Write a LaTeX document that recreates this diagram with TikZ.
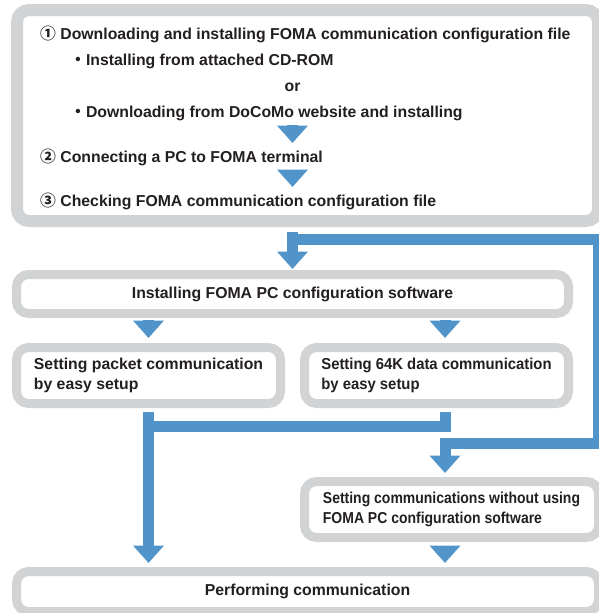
\documentclass[tikz,border=0pt]{standalone}
\usepackage{fontspec}
\setmainfont{Liberation Sans}
\newfontfamily\cjk{Noto Sans CJK JP}
\usepackage{xcolor}
\usetikzlibrary{arrows.meta,calc}
\definecolor{boxgray}{RGB}{209,211,212}
\definecolor{flowblue}{RGB}{80,148,202}
\definecolor{ink}{RGB}{35,31,32}

\begin{document}
\begin{tikzpicture}[
  x=1pt, y=-1pt,
  font=\fontsize{15.8}{19.5}\selectfont\bfseries,
  stage/.style={draw=boxgray, fill=white, line width=9pt, rounded corners=12pt, inner sep=0pt, outer sep=0pt, align=left, text=ink},
  narrow/.style={font=\fontsize{15.8}{19.5}\selectfont\bfseries\addfontfeature{FakeStretch=#1}},
  line/.style={anchor=base west, inner sep=0pt, text=ink},
  flow/.style={draw=flowblue, line width=11pt, line join=miter, -{Triangle[width=30pt,length=17.5pt]}}
]
  \useasboundingbox (0,0) rectangle (599,613);

  % Preparation box
  \node[stage, line width=12pt, minimum width=581pt, minimum height=211pt] (setup) at (307.5,115.5) {};
  \node[line] (step1) at (40,39.3) {{\cjk ①}\ Downloading and installing FOMA communication configuration file};
  \node[line] (cdrom) at (70,65.3) {{\cjk ・}Installing from attached CD-ROM};
  \node[anchor=base, inner sep=0pt, text=ink] (or) at (292.5,91.7) {or};
  \node[line] (web) at (70,117.3) {{\cjk ・}Downloading from DoCoMo website and installing};
  \node[line] (step2) at (40,162.7) {{\cjk ②}\ Connecting a PC to FOMA terminal};
  \node[line] (step3) at (40,206) {{\cjk ③}\ Checking FOMA communication configuration file};

  % Steps
  \node[stage, minimum width=552pt, minimum height=39pt] (install) at (292.5,294) {Installing FOMA PC configuration software};
  \node[stage, minimum width=264pt, minimum height=56pt] (packet) at (148.5,375.5) {Setting packet communication\\by easy setup};
  \node[stage, narrow=0.94, minimum width=264pt, minimum height=56pt] (data) at (436.5,375.5) {Setting 64K data communication\\by easy setup};
  \node[stage, narrow=0.885, minimum width=294pt, minimum height=56pt] (manual) at (451.5,509.5) {Setting communications without using\\FOMA PC configuration software};
  \node[stage, minimum width=582pt, minimum height=40pt] (connect) at (307.5,591.5) {Performing communication};

  % Turning points
  \coordinate (fork) at (292.5,239.5);
  \coordinate (rail) at (598,443);
  \coordinate (rcol) at (445,0);
  \coordinate (merge) at (148.5,426);

  % Arrows inside the first box
  \draw[flow, shorten <=7.7pt, shorten >=19.7pt] (web.base -| or) -- (step2.base -| or);
  \draw[flow, shorten <=7.3pt, shorten >=19pt] (step2.base -| or) -- (step3.base -| or);

  % Main flow
  \draw[flow, shorten <=11pt, shorten >=5.5pt] (setup.south -| fork) -- (install.north -| fork);
  \draw[flow, shorten >=8.5pt] (fork) -| (rail) -| (manual.north -| rcol);
  \draw[flow, shorten <=6.5pt, shorten >=9.5pt] (install.south -| packet.north) -- (packet.north);
  \draw[flow, shorten <=6.5pt, shorten >=9.5pt] (install.south -| rcol) -- (data.north -| rcol);
  \draw[flow, shorten <=8.5pt, shorten >=8.5pt] (packet.south) -- (connect.north -| packet.south);
  \draw[flow, -, shorten <=8.5pt] (data.south -| rcol) |- (merge);
  \draw[flow, shorten <=8.5pt, shorten >=8.5pt] (manual.south -| rcol) -- (connect.north -| rcol);

\end{tikzpicture}
\end{document}
